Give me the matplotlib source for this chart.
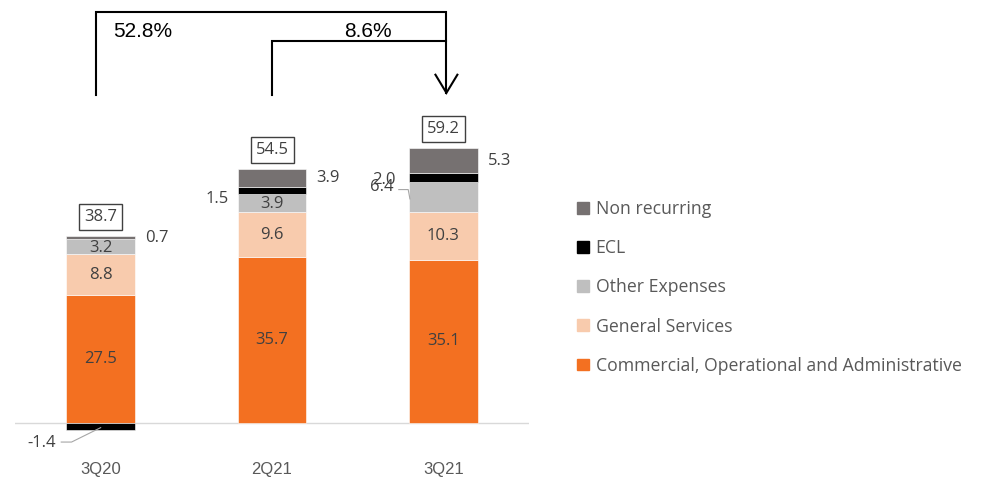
import numpy as np
import matplotlib.pyplot as plt
from matplotlib.patches import Patch

categories = ["3Q20", "2Q21", "3Q21"]
commercial = [27.5, 35.7, 35.1]
general = [8.8, 9.6, 10.3]
other = [3.2, 3.9, 6.4]
ecl = [-1.4, 1.5, 2.0]
non_recurring = [0.7, 3.9, 5.3]
totals = [38.7, 54.5, 59.2]
growth = ["52.8%", "8.6%"]

series = [
    ("Commercial, Operational and Administrative", commercial, "#F37021"),
    ("General Services", general, "#F8CBAD"),
    ("Other Expenses", other, "#BFBFBF"),
    ("ECL", ecl, "#000000"),
    ("Non recurring", non_recurring, "#767171"),
]

fig = plt.figure(figsize=(9.89, 4.8), dpi=100)
# axis spans the full height, x from 15px to 529px
ax = fig.add_axes([15 / 989, 0, 514 / 989, 1])
ax.set_xlim(-0.5, 2.5)
ax.set_ylim(-12.26, 90.97)
ax.axis("off")

x = np.arange(len(categories))
w = 0.4
pos_bottom = np.zeros(len(categories))
neg_bottom = np.zeros(len(categories))
seg = {}
for name, vals, col in series:
    vals = np.array(vals)
    bottoms = np.where(vals >= 0, pos_bottom, neg_bottom)
    ax.bar(x, vals, w, bottom=bottoms, color=col, edgecolor="white", linewidth=0.4, zorder=2)
    seg[name] = (bottoms, vals)
    pos_bottom = pos_bottom + np.where(vals >= 0, vals, 0)
    neg_bottom = neg_bottom + np.where(vals < 0, vals, 0)

ax.axhline(0, color="#D9D9D9", lw=1, zorder=1)

lab_kw = dict(fontsize=12, color="#404040", family="Open Sans", ha="center", va="center")

# labels inside the bars
for name in ["Commercial, Operational and Administrative", "General Services"]:
    b, v = seg[name]
    for i in range(3):
        ax.text(x[i], b[i] + v[i] / 2, f"{v[i]:.1f}", **lab_kw)
b, v = seg["Other Expenses"]
for i in range(2):
    ax.text(x[i], b[i] + v[i] / 2 - 0.2, f"{v[i]:.1f}", **lab_kw)

# non recurring labels to the right
b, v = seg["Non recurring"]
for i in range(3):
    ax.text(x[i] + 0.26, b[i] + v[i] / 2, f"{v[i]:.1f}", **dict(lab_kw, ha="left"))

# ECL labels to the left
b, v = seg["ECL"]
ax.text(x[0] - 0.26, -4.3, f"{v[0]:.1f}", **dict(lab_kw, ha="right"))
ax.plot([x[0] - 0.23, x[0] - 0.17, x[0]], [-4.1, -4.1, b[0] + v[0] / 2 - 0.3], color="#A6A6A6", lw=0.8)
ax.text(x[1] - 0.25, b[1] + v[1] / 2 - 1.8, f"{v[1]:.1f}", **dict(lab_kw, ha="right"))
ax.text(x[2] - 0.28, b[2] + v[2] / 2 - 0.5, f"{v[2]:.1f}", **dict(lab_kw, ha="right"))

# other expenses 3Q21 with leader
b, v = seg["Other Expenses"]
ax.text(x[2] - 0.29, b[2] + v[2] - 1.0, f"{v[2]:.1f}", **dict(lab_kw, ha="right"))
ax.plot([x[2] - 0.26, x[2] - 0.205, x[2] - 0.195], [b[2] + v[2] - 1.6, b[2] + v[2] - 1.6, b[2] + v[2] - 3.6],
        color="#A6A6A6", lw=0.8)

# totals in boxes
for i in range(3):
    ax.text(x[i], pos_bottom[i] + 4.2, f"{totals[i]:.1f}", fontsize=12, color="#404040", family="Open Sans",
            ha="center", va="center",
            bbox=dict(boxstyle="square,pad=0.3", fc="white", ec="#404040", lw=1))

# category labels
for i in range(3):
    ax.text(x[i], -10.1, categories[i], fontsize=12, color="#595959", family="Liberation Sans",
            ha="center", va="center")

# growth brackets
lw = 1.5
ax.plot([-0.03, -0.03, 2.018, 2.018], [70.5, 88.4, 88.4, 71.0], color="black", lw=lw, solid_joinstyle="miter")
ax.plot([1.0, 1.0, 2.018], [70.5, 82.2, 82.2], color="black", lw=lw, solid_joinstyle="miter")
ax.plot([1.954, 2.018, 2.082], [74.9, 71.0, 74.9], color="black", lw=lw, solid_joinstyle="miter")
ax.text(0.245, 84.3, growth[0], fontsize=15, family="Liberation Sans", ha="center", va="center")
ax.text(1.56, 84.3, growth[1], fontsize=15, family="Liberation Sans", ha="center", va="center")

# legend
handles = [Patch(color=col, label=name) for name, vals, col in series][::-1]
leg = fig.legend(handles=handles, loc="upper left", bbox_to_anchor=(570 / 989, 1 - 193 / 480),
                 frameon=False, handlelength=0.65, handleheight=0.65,
                 handletextpad=0.4, labelspacing=1.2, borderaxespad=0,
                 prop=dict(family="Open Sans", size=12.7))
for t in leg.get_texts():
    t.set_color("#595959")

fig.savefig("out.png", dpi=100)
